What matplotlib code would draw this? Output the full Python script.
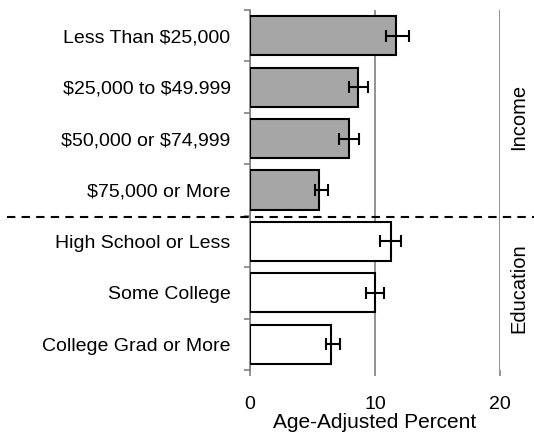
import numpy as np
import matplotlib.pyplot as plt
from matplotlib.lines import Line2D

plt.rcParams['font.family'] = ['Liberation Sans', 'DejaVu Sans']
plt.rcParams['text.parse_math'] = False

categories = ['Less Than $25,000', '$25,000 to $49.999', '$50,000 or $74,999',
              '$75,000 or More', 'High School or Less', 'Some College',
              'College Grad or More']
values = [11.7, 8.6, 7.95, 5.55, 11.3, 10.0, 6.5]
err_low = [10.9, 7.9, 7.1, 5.2, 10.4, 9.3, 6.1]
err_high = [12.7, 9.4, 8.7, 6.2, 12.1, 10.7, 7.2]
groups = ['Income', 'Income', 'Income', 'Income', 'Education', 'Education', 'Education']
group_colors = {'Income': '#a6a6a6', 'Education': 'white'}

values = np.array(values)
xerr = [values - np.array(err_low), np.array(err_high) - values]
pos = np.arange(len(categories))

fig = plt.figure(figsize=(5.34, 4.37), dpi=100)
ax = fig.add_axes([250 / 534, 1 - 370 / 437, 250 / 534, 360 / 437])

ax.barh(pos, values, height=0.76, color=[group_colors[g] for g in groups],
        edgecolor='black', linewidth=1.5, zorder=3)
ax.errorbar(values, pos, xerr=xerr, fmt='none', ecolor='black',
            elinewidth=1.5, capsize=4, capthick=1.5, zorder=4)

ax.set_xlim(0, 20)
ax.set_ylim(len(categories) - 0.5, -0.5)
ax.set_xticks([0, 10, 20])
ax.xaxis.grid(True, color='#808080', linewidth=1.2, zorder=0)

ax.set_yticks(pos)
ax.set_yticklabels(categories, fontsize=14)
ax.set_yticks(np.arange(-0.5, len(categories)), minor=True)
ax.tick_params(axis='y', which='major', length=0, pad=14)
ax.tick_params(axis='y', which='minor', length=4, color='#808080', width=1.2)
ax.tick_params(axis='x', length=4, color='#808080', width=1.2, pad=15, labelsize=14)

for s in ['top', 'right', 'bottom']:
    ax.spines[s].set_visible(False)
ax.spines['left'].set_color('#808080')
ax.spines['left'].set_linewidth(1.2)

ax.set_xlabel('Age-Adjusted Percent', fontsize=15, labelpad=0)

# dashed line between groups
yline = 1 - 217 / 437
fig.add_artist(Line2D([7 / 534, 1], [yline, yline], transform=fig.transFigure,
                      color='black', linestyle=(0, (4, 3)), linewidth=1.5))

fig.text(519 / 534, 1 - 117 / 437, 'Income', rotation=90, fontsize=14.5,
         ha='center', va='center')
fig.text(519 / 534, 1 - 288 / 437, 'Education', rotation=90, fontsize=14.5,
         ha='center', va='center')

fig.savefig('out.png', dpi=100)
